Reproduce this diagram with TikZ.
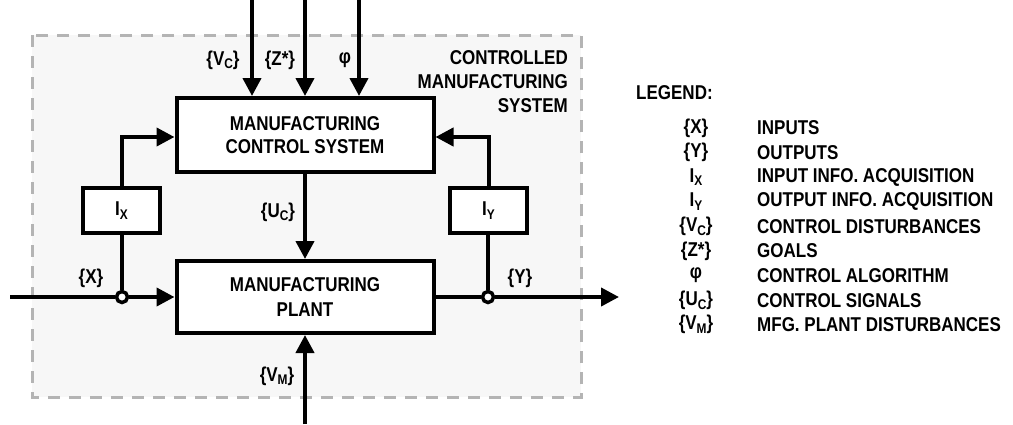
\documentclass[tikz,border=0pt]{standalone}
\usepackage{fontspec}
\setmainfont{Liberation Sans}[FakeStretch=0.85]
\usetikzlibrary{arrows.meta}
\definecolor{dashgray}{RGB}{180,180,180}
\definecolor{panel}{RGB}{247,247,247}
\newcommand\sbs[1]{\raisebox{-0.35ex}{\fontsize{14}{14}\selectfont #1}}
\begin{document}
\begin{tikzpicture}[x=1pt,y=-1pt,
  font=\fontsize{20}{23}\selectfont\bfseries,
  box/.style={draw=black,line width=4pt,fill=white,align=center,inner sep=0pt},
  circ/.style={circle,draw=black,line width=3.5pt,fill=white,inner sep=0pt,minimum size=11pt},
  ln/.style={line width=4pt},
  arr/.style={line width=4pt,-{Triangle[length=18pt,width=18pt]}},
  lbl/.style={inner sep=0pt},
  legsym/.style={inner sep=0pt,anchor=center},
  legtxt/.style={inner sep=0pt,anchor=west}]
\useasboundingbox (0,0) rectangle (1013,424);
\fill[white] (0,0) rectangle (1013,424);
% controlled manufacturing system frame
\draw[dashgray,fill=panel,line width=3pt,dash pattern=on 12pt off 9pt] (32,35) rectangle (581,397);
\node[lbl,anchor=east,align=right,font=\fontsize{20}{24}\selectfont\bfseries] (cms) at (568,82) {CONTROLLED\\MANUFACTURING\\SYSTEM};
% boxes
\node[box,minimum width=257pt,minimum height=74pt] (mcs) at (305,135) {MANUFACTURING\\CONTROL SYSTEM};
\node[box,minimum width=257pt,minimum height=72pt] (plant) at (305,297) {MANUFACTURING\\[2pt]PLANT};
\node[box,minimum width=77pt,minimum height=45pt] (ix) at (121.5,210.5) {I\sbs{X}};
\node[box,minimum width=77pt,minimum height=45pt] (iy) at (488.5,210.5) {I\sbs{Y}};
% junction circles
\node[circ] (cx) at (122,297) {};
\node[circ] (cy) at (488,297) {};
% free ends
\coordinate (vcin) at (252,0);
\coordinate (zin) at (305,0);
\coordinate (phin) at (359,0);
\coordinate (xin) at (10,297);
\coordinate (yout) at (619,297);
\coordinate (vmin) at (305,424);
% connectors
\draw[arr] (vcin) -- (vcin |- mcs.north);
\draw[arr] (zin) -- (zin |- mcs.north);
\draw[arr] (phin) -- (phin |- mcs.north);
\draw[arr] (mcs.south) -- (plant.north);
\draw[arr] (vmin) -- (plant.south);
\draw[ln] (xin) -- (cx.west);
\draw[arr] (cx.east) -- (plant.west);
\draw[ln] (plant.east) -- (cy.west);
\draw[arr] (cy.east) -- (yout);
\draw[ln] (cx.north) -- (cx |- ix.south);
\draw[ln] (cy.north) -- (cy |- iy.south);
\draw[arr] (ix.north) |- ([yshift=-2pt]mcs.west);
\draw[arr] (iy.north) |- ([yshift=-2pt]mcs.east);
% signal labels
\node[lbl] (lvc) at (223,60) {\{V\sbs{C}\}};
\node[lbl] (lz) at (280,60) {\{Z*\}};
\node[lbl] (lphi) at (345,60) {φ};
\node[lbl] (luc) at (278,212) {\{U\sbs{C}\}};
\node[lbl] (lvm) at (277,376) {\{V\sbs{M}\}};
\node[lbl] (lx) at (91,278) {\{X\}};
\node[lbl] (ly) at (520,278) {\{Y\}};
% legend
\node[lbl,anchor=west] (leg) at (636,93) {LEGEND:};
\node[legsym] (s1) at (696,128) {\{X\}};
\node[legtxt] (t1) at (757,128) {INPUTS};
\node[legsym] (s2) at (696,152.6) {\{Y\}};
\node[legtxt] (t2) at (757,152.6) {OUTPUTS};
\node[legsym] (s3) at (696,177.2) {I\sbs{X}};
\node[legtxt] (t3) at (757,177.2) {INPUT INFO. ACQUISITION};
\node[legsym] (s4) at (696,201.8) {I\sbs{Y}};
\node[legtxt] (t4) at (757,201.8) {OUTPUT INFO. ACQUISITION};
\node[legsym] (s5) at (696,226.4) {\{V\sbs{C}\}};
\node[legtxt] (t5) at (757,226.4) {CONTROL DISTURBANCES};
\node[legsym] (s6) at (696,251) {\{Z*\}};
\node[legtxt] (t6) at (757,251) {GOALS};
\node[legsym] (s7) at (696,275.6) {φ};
\node[legtxt] (t7) at (757,275.6) {CONTROL ALGORITHM};
\node[legsym] (s8) at (696,300.2) {\{U\sbs{C}\}};
\node[legtxt] (t8) at (757,300.2) {CONTROL SIGNALS};
\node[legsym] (s9) at (696,324.8) {\{V\sbs{M}\}};
\node[legtxt] (t9) at (757,324.8) {MFG. PLANT DISTURBANCES};
\end{tikzpicture}
\end{document}
